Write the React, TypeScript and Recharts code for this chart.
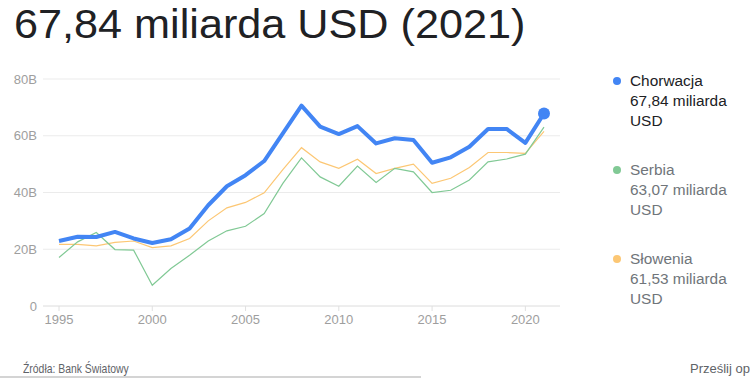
import { LineChart, Line, XAxis, YAxis, CartesianGrid } from "recharts";

const years = [
  1995, 1996, 1997, 1998, 1999, 2000, 2001, 2002, 2003, 2004, 2005, 2006, 2007,
  2008, 2009, 2010, 2011, 2012, 2013, 2014, 2015, 2016, 2017, 2018, 2019, 2020, 2021,
];

// miliardy USD
const chorwacja = [
  22.9, 24.4, 24.3, 26.1, 23.8, 22.2, 23.5, 27.3, 35.5, 42.2, 46.1, 51.1, 60.8,
  70.6, 63.2, 60.6, 63.4, 57.3, 59.1, 58.5, 50.5, 52.4, 56.1, 62.4, 62.4, 57.5, 67.84,
];
const serbia = [
  17.1, 22.6, 25.9, 19.9, 19.7, 7.3, 13.2, 17.9, 22.9, 26.5, 28.1, 32.6, 43.2,
  52.2, 45.5, 42.2, 49.3, 43.5, 48.5, 47.3, 40.0, 40.8, 44.4, 50.8, 51.8, 53.5, 63.07,
];
const slowenia = [
  21.7, 21.7, 21.2, 22.4, 22.9, 20.6, 21.2, 23.8, 30.0, 34.6, 36.5, 39.9, 48.1,
  55.8, 50.8, 48.5, 51.7, 46.7, 48.5, 50.0, 43.2, 45.0, 48.8, 54.1, 54.1, 53.8, 61.53,
];

const xTicks = [1995, 2000, 2005, 2010, 2015, 2020];
const yTicks = [0, 20, 40, 60, 80];

const legendItems = [
  { name: "Chorwacja", value: "67,84 miliarda", unit: "USD", color: "#4285F4", text: "#202124" },
  { name: "Serbia", value: "63,07 miliarda", unit: "USD", color: "#81C995", text: "#70757a" },
  { name: "Słowenia", value: "61,53 miliarda", unit: "USD", color: "#FCC774", text: "#70757a" },
];

const data = years.map((y, i) => ({
  year: y,
  hr: chorwacja[i],
  rs: serbia[i],
  si: slowenia[i],
}));

const FONT = '"Liberation Sans", Arial, sans-serif';

export default function App() {
  const last = data.length - 1;
  return (
    <div
      style={{
        position: "absolute",
        left: 0,
        top: 0,
        width: 750,
        height: 378,
        background: "#fff",
        overflow: "hidden",
        fontFamily: FONT,
      }}
    >
      <div
        style={{
          position: "absolute",
          left: 14,
          top: 4,
          fontSize: 40,
          lineHeight: "40px",
          color: "#202124",
          whiteSpace: "nowrap",
          transform: "scaleX(1.08)",
          transformOrigin: "left",
        }}
      >
        67,84 miliarda USD (2021)
      </div>

      <div style={{ position: "absolute", left: 0, top: 0 }}>
        <LineChart width={570} height={340} data={data} margin={{ top: 79, right: 10, left: 0, bottom: 4 }}>
          <CartesianGrid vertical={false} stroke="#ebebeb" />
          <XAxis
            dataKey="year"
            type="number"
            domain={[1995, 2021]}
            ticks={xTicks}
            padding={{ left: 16, right: 16 }}
            height={30}
            tickSize={5}
            tickMargin={4}
            axisLine={{ stroke: "#e6e6e6" }}
            tickLine={{ stroke: "#e0e0e0" }}
            tick={{ fill: "#9e9e9e", fontSize: 13, fontFamily: FONT }}
          />
          <YAxis
            domain={[0, 80]}
            ticks={yTicks}
            width={43}
            tickSize={0}
            tickMargin={6}
            axisLine={false}
            tickLine={false}
            tickFormatter={(v: number) => (v === 0 ? "0" : `${v}B`)}
            tick={{ fill: "#9e9e9e", fontSize: 13, fontFamily: FONT }}
          />
          <Line dataKey="si" stroke="#FCC774" strokeWidth={1.2} dot={false} isAnimationActive={false} />
          <Line dataKey="rs" stroke="#81C995" strokeWidth={1.2} dot={false} isAnimationActive={false} />
          <Line
            dataKey="hr"
            stroke="#4285F4"
            strokeWidth={4}
            strokeLinejoin="round"
            isAnimationActive={false}
            dot={(p: any) =>
              p.index === last ? (
                <circle key="end" cx={p.cx} cy={p.cy} r={6} fill="#4285F4" />
              ) : (
                <g key={`d${p.index}`} />
              )
            }
          />
        </LineChart>
      </div>

      {legendItems.map((it, i) => (
        <div key={it.name} style={{ position: "absolute", left: 613, top: 71 + i * 89 }}>
          <div
            style={{
              position: "absolute",
              left: 0,
              top: 6,
              width: 8,
              height: 8,
              borderRadius: 4,
              background: it.color,
            }}
          />
          <div
            style={{
              position: "absolute",
              left: 17,
              top: 0,
              fontSize: 14,
              lineHeight: "20px",
              color: it.text,
              whiteSpace: "nowrap",
              transform: "scaleX(1.1)",
              transformOrigin: "left",
            }}
          >
            <div>{it.name}</div>
            <div>{it.value}</div>
            <div>{it.unit}</div>
          </div>
        </div>
      ))}

      <div
        style={{
          position: "absolute",
          left: 23,
          top: 360,
          fontSize: 13,
          lineHeight: "18px",
          color: "#5f6368",
          whiteSpace: "nowrap",
          transform: "scaleX(0.8)",
          transformOrigin: "left",
        }}
      >
        Źródła: Bank Światowy
      </div>
      <div
        style={{
          position: "absolute",
          left: 690,
          top: 360,
          fontSize: 13,
          lineHeight: "18px",
          color: "#5f6368",
          whiteSpace: "nowrap",
        }}
      >
        Prześlij opinię
      </div>
      <div style={{ position: "absolute", left: 0, top: 376, width: 421, height: 2, background: "#d4d4d4" }} />
    </div>
  );
}
